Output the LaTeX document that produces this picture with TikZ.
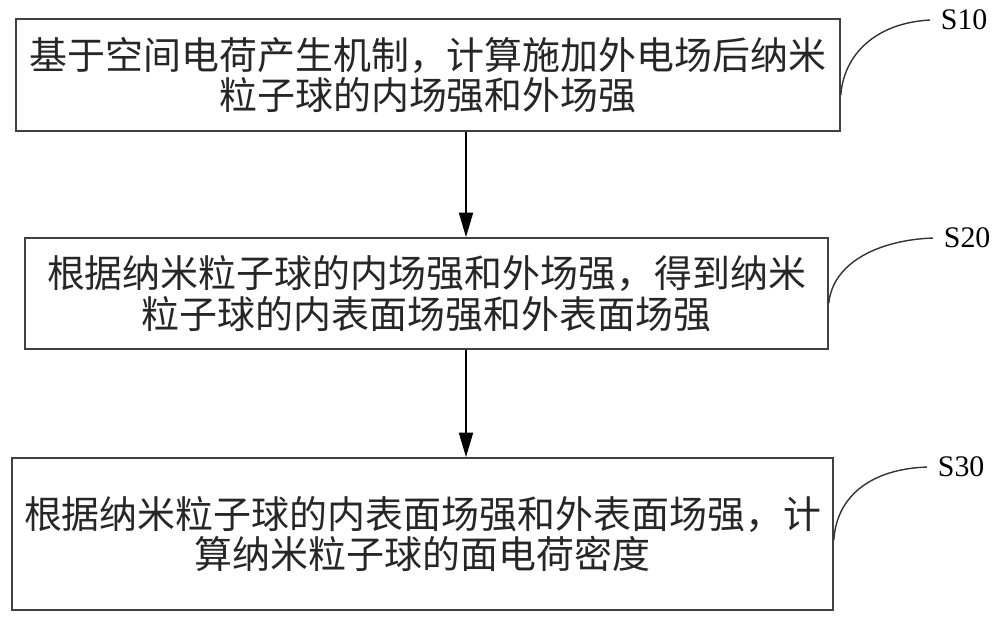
\documentclass[tikz,border=0pt]{standalone}
\usepackage{fontspec}
\setmainfont{Liberation Serif}
\newfontfamily\cjk{Noto Sans CJK SC}
\usetikzlibrary{arrows.meta}

\begin{document}
\begin{tikzpicture}[x=0.02cm,y=-0.02cm,>={Triangle[length=14pt,width=8pt]},
  stepbox/.style={draw=black!75,line width=1pt,align=center,inner sep=0pt,
    text=black!85,font=\cjk\fontsize{21.6pt}{23pt}\selectfont},
  steplabel/.style={anchor=west,inner sep=6pt,font=\fontsize{17pt}{20pt}\selectfont}]
  \useasboundingbox (0,0) rectangle (1000,620);
  \coordinate (ax) at (466,0);
  \node[stepbox,minimum width=16.48cm,minimum height=2.24cm] (b1) at (428,75)
    {基于空间电荷产生机制，计算施加外电场后纳米\\粒子球的内场强和外场强};
  \node[stepbox,minimum width=16.06cm,minimum height=2.22cm] (b2) at (426.5,293.5)
    {根据纳米粒子球的内场强和外场强，得到纳米\\粒子球的内表面场强和外表面场强};
  \node[stepbox,minimum width=16.42cm,minimum height=3.04cm] (b3) at (422.5,534)
    {根据纳米粒子球的内表面场强和外表面场强，计\\算纳米粒子球的面电荷密度};
  \node[steplabel] (s10) at (930,20) {S10};
  \node[steplabel] (s20) at (933,238) {S20};
  \node[steplabel] (s30) at (927,467) {S30};
  \draw[->,line width=1pt] (b1.south -| ax) -- (b2.north -| ax);
  \draw[->,line width=1pt] (b2.south -| ax) -- (b3.north -| ax);
  \draw[line width=0.8pt,black!80] ([yshift=-0.4cm]b1.east) .. controls +(3,-40) and +(-55,3) .. (s10.west);
  \draw[line width=0.8pt,black!80] ([yshift=-0.19cm]b2.east) .. controls +(4,-40) and +(-55,2) .. (s20.west);
  \draw[line width=0.8pt,black!80] ([yshift=-0.12cm]b3.east) .. controls +(3,-45) and +(-55,2) .. (s30.west);
\end{tikzpicture}
\end{document}
